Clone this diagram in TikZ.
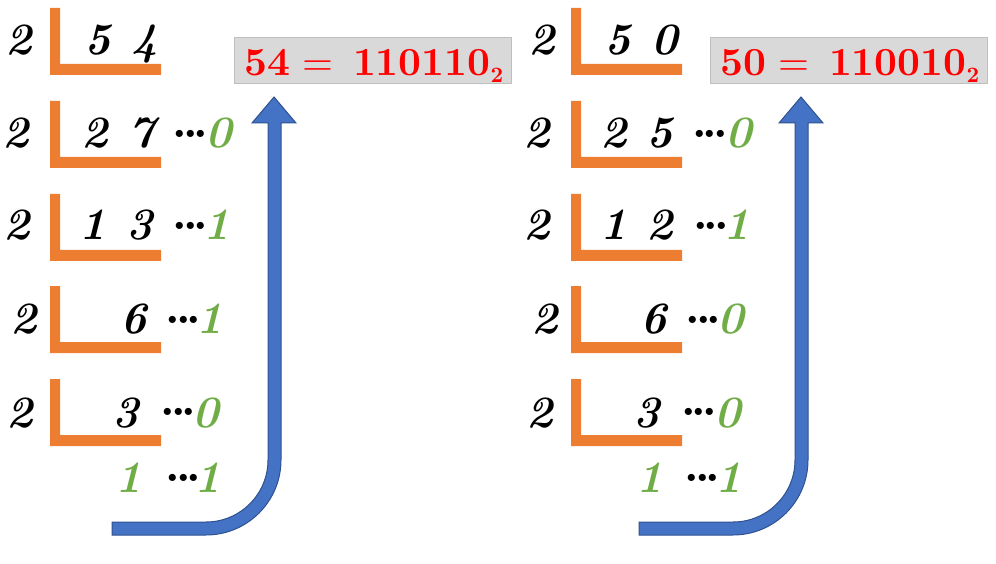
\documentclass[tikz,border=0pt]{standalone}
\usepackage{fontspec}
\newfontfamily\resfont{lmroman10-bold}[Extension=.otf]
\newfontfamily\eqfont{lmroman10-regular}[Extension=.otf]
\newfontfamily\digfont{lmroman10-bolditalic}[Extension=.otf]
\definecolor{barorange}{HTML}{ED7D31}
\definecolor{bitgreen}{HTML}{70AD47}
\definecolor{boxgray}{HTML}{D9D9D9}
\definecolor{boxedge}{HTML}{BFBFBF}
\definecolor{arrowblue}{HTML}{4472C4}
\definecolor{arrowedge}{HTML}{2F528F}
\definecolor{resred}{HTML}{FF0000}
\newcommand\bitdots{{\resfont .\kern-.09em.\kern-.09em.}}
\newcommand\orangebracket[2]{\fill[bracket] (#1,#2) -- ++(10,0) -- ++(0,56) -- ++(101,0) -- ++(0,11) -- ++(-111,0) -- cycle;}
\newcommand\resulttext[2]{{\resfont #1}\hspace{12bp}{\eqfont =}\hspace{20bp}{\resfont #2}\raisebox{-7bp}{\fontsize{22}{22}\selectfont\resfont 2}}
\tikzset{
  digit/.style={font=\fontsize{45}{45}\selectfont\digfont, inner sep=0pt, anchor=base},
  bit/.style={digit, text=bitgreen},
  dotsn/.style={font=\fontsize{46}{46}\selectfont, inner sep=0pt, anchor=base},
  bracket/.style={fill=barorange},
  resultbox/.style={fill=boxgray, draw=boxedge, line width=1bp, inner sep=0pt, anchor=north west, minimum width=277bp, minimum height=46bp},
  restext/.style={font=\fontsize{40}{40}\selectfont, text=resred, inner sep=0pt, anchor=base west},
  arrowshape/.style={fill=arrowblue, draw=arrowedge, line width=1bp, line join=miter},
}
\begin{document}
\begin{tikzpicture}[x=1bp, y=-1bp]
\useasboundingbox (0,0) rectangle (996,564);

% ---------------- left column ----------------
\orangebracket{50}{8}
\orangebracket{50}{101}
\orangebracket{50}{194}
\orangebracket{50}{286}
\orangebracket{50}{379}

\node[digit] (L1d) at (19,55) {2};
\node[digit] (L1a) at (97.5,55) {5};
\node[digit] (L1b) at (144.5,55) {4};

\node[digit] (L2d) at (15.5,148) {2};
\node[digit] (L2a) at (95,148) {2};
\node[digit] (L2b) at (141.5,148) {7};
\node[dotsn] (L2dots) at (190.5,138) {\bitdots};
\node[bit] (L2r) at (218.5,148) {0};

\node[digit] (L3d) at (17,240) {2};
\node[digit] (L3a) at (92.5,240) {1};
\node[digit] (L3b) at (140,240) {3};
\node[dotsn] (L3dots) at (190.5,230) {\bitdots};
\node[bit] (L3r) at (217,240) {1};

\node[digit] (L4d) at (24,333) {2};
\node[digit] (L4b) at (133.5,333) {6};
\node[dotsn] (L4dots) at (183.5,323) {\bitdots};
\node[bit] (L4r) at (209.5,333) {1};

\node[digit] (L5d) at (19.5,427) {2};
\node[digit] (L5b) at (126,427) {3};
\node[dotsn] (L5dots) at (178.5,415) {\bitdots};
\node[bit] (L5r) at (205.5,427) {0};

\node[bit] (L6q) at (128.5,492) {1};
\node[dotsn] (L6dots) at (183.5,481) {\bitdots};
\node[bit] (L6r) at (208,492) {1};

\node[resultbox] (Lbox) at (234,37) {};
\node[restext] (Lres) at (244,76) {\resulttext{54}{110110}};

\filldraw[arrowshape] (112,522) -- (206,522) arc[start angle=90, end angle=0, radius=62]
  -- (268,123) -- (252,123) -- (274,97) -- (296,123) -- (281,123) -- (281,460)
  arc[start angle=0, end angle=90, radius=75] -- (112,535) -- cycle;

% ---------------- right column ----------------
\orangebracket{571}{8}
\orangebracket{571}{101}
\orangebracket{571}{194}
\orangebracket{571}{286}
\orangebracket{571}{379}

\node[digit] (R1d) at (541.5,55) {2};
\node[digit] (R1a) at (617.5,55) {5};
\node[digit] (R1b) at (665,55) {0};

\node[digit] (R2d) at (536.5,148) {2};
\node[digit] (R2a) at (613.5,148) {2};
\node[digit] (R2b) at (659.5,148) {5};
\node[dotsn] (R2dots) at (710,138) {\bitdots};
\node[bit] (R2r) at (738.5,148) {0};

\node[digit] (R3d) at (536.5,240) {2};
\node[digit] (R3a) at (614,240) {1};
\node[digit] (R3b) at (660,240) {2};
\node[dotsn] (R3dots) at (711,230) {\bitdots};
\node[bit] (R3r) at (736.5,240) {1};

\node[digit] (R4d) at (544.5,333) {2};
\node[digit] (R4b) at (653.5,333) {6};
\node[dotsn] (R4dots) at (703.5,323) {\bitdots};
\node[bit] (R4r) at (730.5,333) {0};

\node[digit] (R5d) at (540,427) {2};
\node[digit] (R5b) at (647,427) {3};
\node[dotsn] (R5dots) at (699,415) {\bitdots};
\node[bit] (R5r) at (727.5,427) {0};

\node[bit] (R6q) at (650,492) {1};
\node[dotsn] (R6dots) at (702.5,481) {\bitdots};
\node[bit] (R6r) at (729,492) {1};

\node[resultbox] (Rbox) at (710,37) {};
\node[restext] (Rres) at (720,76) {\resulttext{50}{110010}};

\begin{scope}[shift={(527,0)}]
\filldraw[arrowshape] (112,522) -- (206,522) arc[start angle=90, end angle=0, radius=62]
  -- (268,123) -- (252,123) -- (274,97) -- (296,123) -- (281,123) -- (281,460)
  arc[start angle=0, end angle=90, radius=75] -- (112,535) -- cycle;
\end{scope}
\end{tikzpicture}
\end{document}
